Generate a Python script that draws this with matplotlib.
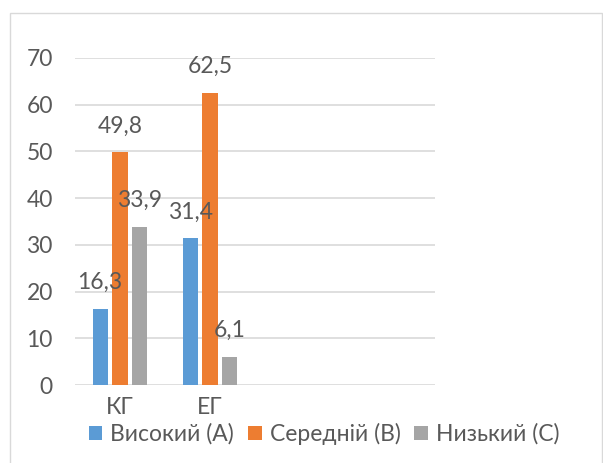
import numpy as np
import matplotlib
matplotlib.use('Agg')
import matplotlib.pyplot as plt
from matplotlib.patches import Rectangle, Patch

# ──────────────────────── DATA ─────────────────────────
categories = ['КГ', 'ЕГ', '', '']
series_names = ['Високий (А)', 'Середній (В)', 'Низький (С)']
high = [16.3, 31.4]
medium = [49.8, 62.5]
low = [33.9, 6.1]
y_ticks = [0, 10, 20, 30, 40, 50, 60, 70]

colors = ['#5B9BD5', '#ED7D31', '#A5A5A5']
text_color = '#595959'
grid_color = '#D9D9D9'
FS = 16.5

plt.rcParams['font.family'] = ['Lato', 'DejaVu Sans']

fig = plt.figure(figsize=(6.03, 4.63), dpi=100)
fig.patch.set_facecolor('white')

# chart border like Excel
fig.patches.append(Rectangle((10 / 603, -0.05), 592 / 603, 1 - 13 / 463 + 0.05,
                             transform=fig.transFigure, fill=False,
                             edgecolor=grid_color, linewidth=1))

ax = fig.add_axes([75 / 603, 1 - 385 / 463, 360 / 603, 327 / 463])

x = np.arange(len(categories))
width = 0.167
offset = 0.222
series = [high, medium, low]
for i, (vals, name, col) in enumerate(zip(series, series_names, colors)):
    xs = np.arange(len(vals)) + (i - 1) * offset
    ax.bar(xs, vals, width=width, color=col, label=name, zorder=3)
    for xv, v in zip(xs, vals):
        ax.annotate(f'{v:.1f}'.replace('.', ','), (xv, v), xytext=(0, 19),
                    textcoords='offset points', ha='center', va='center',
                    fontsize=FS, color=text_color, zorder=5)

ax.set_xlim(-0.5, len(categories) - 0.5)
ax.set_ylim(0, 70)
ax.set_yticks(y_ticks)
ax.set_xticks(x)
ax.set_xticklabels(categories)
ax.yaxis.grid(True, color=grid_color, linewidth=1.2, zorder=0)
for s in ax.spines.values():
    s.set_visible(False)
ax.tick_params(axis='both', length=0, labelsize=FS, labelcolor=text_color)
ax.tick_params(axis='y', pad=16)
ax.tick_params(axis='x', pad=9)

handles = [Patch(facecolor=c, edgecolor='none') for c in colors]
fig.legend(handles, series_names, loc='center', ncol=3,
           bbox_to_anchor=(324 / 603, 1 - 434 / 463), frameon=False,
           fontsize=FS, labelcolor=text_color, handlelength=0.6,
           handleheight=0.6, handletextpad=0.35, columnspacing=0.6)

fig.savefig('out.png', dpi=100)
